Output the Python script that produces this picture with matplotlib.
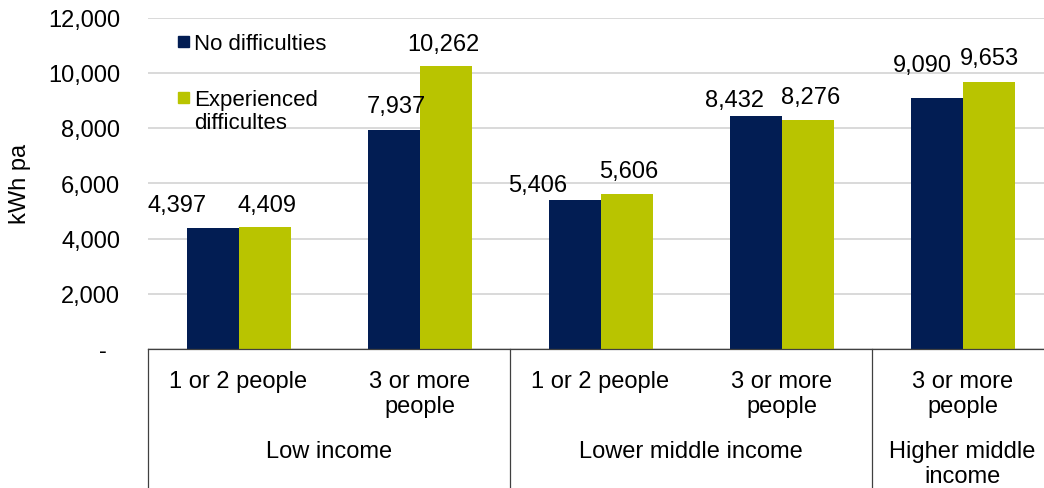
import matplotlib.pyplot as plt
from matplotlib.patches import Rectangle
from matplotlib.transforms import blended_transform_factory
import numpy as np

plt.rcParams['font.family'] = ['Liberation Sans', 'DejaVu Sans']
plt.rcParams['font.size'] = 17

sub_labels = ['1 or 2 people', '3 or more\npeople', '1 or 2 people', '3 or more\npeople', '3 or more\npeople']
groups = ['Low income', 'Lower middle income', 'Higher middle\nincome']
group_sizes = [2, 2, 1]
no_diff = [4397, 7937, 5406, 8432, 9090]
exp_diff = [4409, 10262, 5606, 8276, 9653]
series_names = ['No difficulties', 'Experienced\ndifficultes']
colors = ['#021D53', '#B9C400']
yticks = [0, 2000, 4000, 6000, 8000, 10000, 12000]

# label nudges (px) as placed by hand in the original
nudge_no = [(-35, 16.5), (3, 17.5), (-37, 9), (-21, 10), (-14.5, 27)]
nudge_exp = [(2, 16), (-2, 16), (2, 17), (3, 17), (1, 18)]

W, H = 1044, 489
fig = plt.figure(figsize=(W / 100, H / 100), dpi=100)
ax = fig.add_axes([148 / W, 139 / H, (W - 148) / W, 331.5 / H])

x = np.arange(len(no_diff))
w = 52 / 181
ax.bar(x - w / 2, no_diff, w, color=colors[0], zorder=3)
ax.bar(x + w / 2, exp_diff, w, color=colors[1], zorder=3)

for xs, vals, nudges in [(x - w / 2, no_diff, nudge_no), (x + w / 2, exp_diff, nudge_exp)]:
    for xi, v, (dx, dy) in zip(xs, vals, nudges):
        ax.annotate(f'{v:,}', (xi, v), xytext=(dx * 0.72, dy * 0.72), textcoords='offset points',
                    ha='center', va='baseline', fontsize=17)

ax.set_xlim(-0.5, (W - 148) / 181 - 0.5)
ax.set_ylim(0, 12000)
ax.set_yticks(yticks)
ax.set_yticklabels(['-  ' if t == 0 else f'{t:,}' for t in yticks])
ax.tick_params(axis='y', length=0, pad=20, labelsize=17)
ax.set_xticks([])
ax.grid(axis='y', color='#D0D0D0', linewidth=1.1, zorder=0)
for s in ['left', 'top', 'right']:
    ax.spines[s].set_visible(False)
ax.spines['bottom'].set_color('#404040')
ax.spines['bottom'].set_linewidth(0.9)
ax.spines['bottom'].set_zorder(4)

ax.set_ylabel('kWh pa', fontsize=17)
ax.yaxis.set_label_coords((31 - 148) / 896, 0.5)

# hierarchical category axis
trans = blended_transform_factory(ax.transData, ax.transAxes)
px = 1 / 331.5
for xi, lab in zip(x, sub_labels):
    ax.text(xi, -21 * px, lab, transform=trans, ha='center', va='top',
            fontsize=17, linespacing=1.2)
start = 0
bounds = [-0.5]
for g, n in zip(groups, group_sizes):
    left = start - 0.5
    right = start + n - 0.5
    ax.text((left + right) / 2, -91 * px, g, transform=trans, ha='center', va='top',
            fontsize=17, linespacing=1.2)
    bounds.append(right)
    start += n
for b in bounds[:-1]:
    ax.plot([b, b], [0, -140 * px], transform=trans, color='#404040', linewidth=0.9,
            clip_on=False)

# legend
for i, (name, c) in enumerate(zip(series_names, colors)):
    top = [37, 93][i]
    ax.add_patch(Rectangle(((178 - 148) / 896, (350 - top - 11) * px), 11 / 896, 11 * px,
                           transform=ax.transAxes, color=c, clip_on=False, zorder=5))
    ax.text((194 - 148) / 896, (350 - top + 3) * px, name, transform=ax.transAxes,
            ha='left', va='top', fontsize=16, linespacing=1.15)

fig.savefig('out.png', dpi=100)
